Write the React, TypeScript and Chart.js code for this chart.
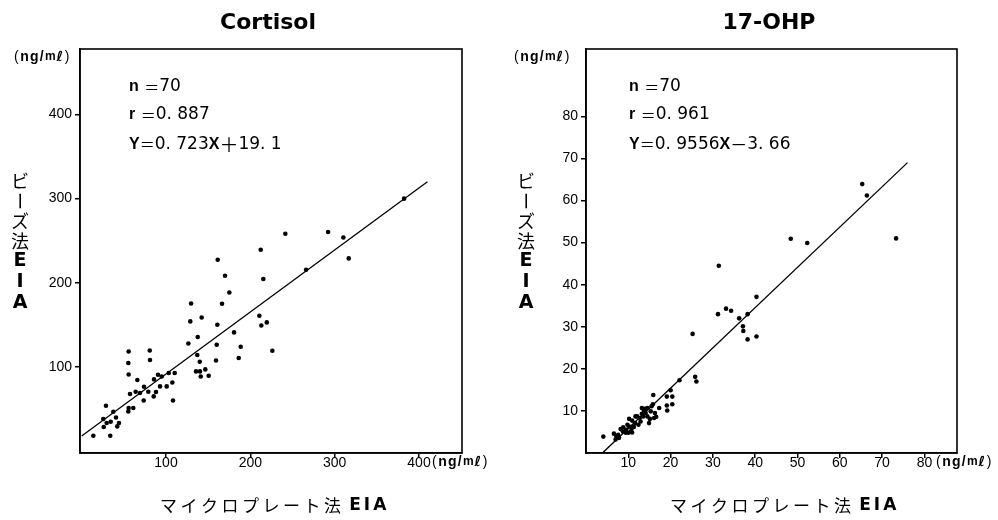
import React, { useEffect, useRef } from "react";
import { Chart, registerables } from "chart.js";

Chart.register(...registerables);

// ---------- data ----------
const cortisolX = [13.8, 33.9, 25.6, 26.1, 28.8, 29.6, 34.4, 37.5, 40.7, 42.2, 44.2, 55.7, 55.3, 55.7, 57.3, 55.7, 55.3, 61.2, 66, 64, 69.2, 73.9, 73.5, 79, 80.7, 81, 85.8, 85.4, 88.1, 90.5, 92.9, 94.9, 100.8, 103.2, 107.5, 108.3, 110.3, 126.5, 128.8, 129.7, 137.1, 137.6, 135.6, 140, 140.3, 141.2, 142.3, 146.6, 150.6, 159.3, 160.1, 160.9, 161.3, 166.4, 170, 175.1, 180.7, 186.2, 188.6, 210.7, 212.3, 213, 215.4, 219.5, 226.1, 241.5, 266.1, 292.2, 310.3, 316.7, 382.3];
const cortisolY = [18.4, 18.4, 38.2, 28.7, 54, 33.5, 35, 46.9, 40.1, 29.5, 33.5, 118.5, 104.7, 91.2, 67.9, 51.3, 47.3, 51.3, 84.6, 70.7, 69.1, 76.6, 60.3, 70.7, 119.7, 108.3, 85.3, 65.1, 70.3, 90.9, 77, 88.8, 77, 92.9, 81.7, 60.3, 92.9, 128, 154.2, 175.5, 114.3, 135.6, 94.8, 106.3, 94.8, 88.8, 158.9, 97.2, 89.7, 107.8, 126.5, 150.2, 227.4, 175.2, 208.4, 188.6, 141.1, 110.7, 124.1, 160.9, 239.3, 149.4, 204.5, 153, 119.4, 258.3, 215.6, 260.3, 253.9, 229, 300];
const cortisolLineX = [0, 410];
const cortisolLineY = [18, 320];
const cortisolXTicks = [100, 200, 300, 400];
const cortisolYTicks = [100, 200, 300, 400];

const ohpX = [65.3, 66.4, 48.4, 52.3, 73.3, 31.4, 40.3, 31.2, 33.1, 34.3, 36.2, 38.2, 37.1, 37.2, 38.2, 40.3, 25.2, 25.8, 26.1, 22.1, 20, 19.1, 20.4, 19.1, 20.4, 19.2, 15.9, 4.1, 6.6, 7.2, 7.6, 8.2, 8.8, 9.5, 10.0, 10.6, 10.8, 10.2, 10.9, 11.6, 12.1, 12.7, 13.2, 13.7, 14.1, 14.5, 14.9, 15.1, 15.5, 15.8, 16.3, 16.6, 17.3, 13.2, 12.4, 11.3, 9.4, 7.8, 7.0, 13.9, 15.3, 16.1, 11.7, 10.2, 8.7, 12.9, 14.5, 10.9, 9.8, 13.5];
const ohpY = [63.9, 61.2, 50.9, 49.9, 51, 44.5, 37.1, 33, 34.3, 33.8, 32, 33, 30.1, 29, 27, 27.7, 28.3, 18.1, 17, 17.3, 14.9, 13.4, 13.4, 11.3, 11.6, 10.1, 13.8, 3.9, 4.6, 3.9, 4.3, 5.7, 6.1, 5.5, 4.8, 5.1, 5.9, 8.1, 7.7, 7.1, 8.7, 8.3, 10.7, 10.1, 9.5, 8.7, 7.1, 8.1, 11.1, 11.6, 9.5, 8.6, 10.7, 9.3, 6.7, 6.2, 4.8, 3.6, 3.2, 10.5, 9.9, 8.3, 8.7, 6.3, 5.1, 7.5, 10.7, 4.9, 6.7, 8.7];
const ohpLineX = [4, 76];
const ohpLineY = [0.1, 69];
const ohpXTicks = [10, 20, 30, 40, 50, 60, 70, 80];
const ohpYTicks = [10, 20, 30, 40, 50, 60, 70, 80];

// ---------- fonts ----------
const SANS = "'Liberation Sans', Arial, sans-serif";
const DEJAVU = "'DejaVu Sans', sans-serif";
const CJK = "'Noto Sans CJK JP', sans-serif";

type Run = { t: string; f: string; sp?: number };

function drawRuns(ctx: CanvasRenderingContext2D, runs: Run[], x: number, y: number) {
  let cx = x;
  for (const r of runs) {
    ctx.font = r.f;
    const sp = r.sp || 0;
    for (const ch of Array.from(r.t)) {
      ctx.fillText(ch, cx, y);
      cx += ctx.measureText(ch).width + sp;
    }
  }
  return cx;
}

const B = `bold 16px ${SANS}`;
const EQ = `15px ${CJK}`;
const D = `17px ${DEJAVU}`;

interface Panel {
  title: string;
  titleX: number;
  stats: Run[][];
  statX: number;
  xs: number[];
  ys: number[];
  lx: number[];
  ly: number[];
  xTicks: number[];
  yTicks: number[];
  xMin: number;
  xMax: number;
  yMin: number;
  yMax: number;
  areaLeft: number;
  areaRight: number;
  areaBottom: number;
  vTitleX: number;
  xTitleX: number;
  unitTopX: number;
  unitBottomX: number;
}

const panels: Panel[] = [
  {
    title: "Cortisol",
    titleX: 268,
    stats: [
      [{ t: "n", f: B }, { t: " ", f: D }, { t: "＝", f: EQ }, { t: "70", f: D }],
      [{ t: "r", f: B }, { t: " ", f: D }, { t: "＝", f: EQ }, { t: "0. 887", f: D }],
      [{ t: "Y", f: B }, { t: "＝", f: EQ }, { t: "0. 723", f: D }, { t: "X", f: B }, { t: "＋", f: `19px ${CJK}` }, { t: "19. 1", f: D }],
    ],
    statX: 129,
    xs: cortisolX,
    ys: cortisolY,
    lx: cortisolLineX,
    ly: cortisolLineY,
    xTicks: cortisolXTicks,
    yTicks: cortisolYTicks,
    xMin: -2,
    xMax: 451,
    yMin: -2.1,
    yMax: 477.7,
    areaLeft: 80,
    areaRight: 462,
    areaBottom: 453,
    vTitleX: 20,
    xTitleX: 160,
    unitTopX: 14,
    unitBottomX: 432,
  },
  {
    title: "17-OHP",
    titleX: 270,
    stats: [
      [{ t: "n", f: B }, { t: " ", f: D }, { t: "＝", f: EQ }, { t: "70", f: D }],
      [{ t: "r", f: B }, { t: " ", f: D }, { t: "＝", f: EQ }, { t: "0. 961", f: D }],
      [{ t: "Y", f: B }, { t: "＝", f: EQ }, { t: "0. 9556", f: D }, { t: "X", f: B }, { t: "－", f: `17px ${CJK}` }, { t: "3. 66", f: D }],
    ],
    statX: 130,
    xs: ohpX,
    ys: ohpY,
    lx: ohpLineX,
    ly: ohpLineY,
    xTicks: ohpXTicks,
    yTicks: ohpYTicks,
    xMin: 0,
    xMax: 87.7,
    yMin: 0,
    yMax: 96,
    areaLeft: 87,
    areaRight: 458,
    areaBottom: 453,
    vTitleX: 27,
    xTitleX: 171,
    unitTopX: 15,
    unitBottomX: 437,
  },
];

const W = 499;
const H = 520;

function makeChart(canvas: HTMLCanvasElement, p: Panel) {
  const points = p.xs.map((x, i) => ({ x, y: p.ys[i] }));
  const line = p.lx.map((x, i) => ({ x, y: p.ly[i] }));

  const decor = {
    id: "decor",
    afterDraw(chart: any) {
      const ctx: CanvasRenderingContext2D = chart.ctx;
      const a = chart.chartArea;
      ctx.save();
      // frame (top & right)
      ctx.strokeStyle = "#000";
      ctx.lineWidth = 1.6;
      ctx.strokeRect(a.left, a.top, a.right - a.left, a.bottom - a.top);
      ctx.fillStyle = "#000";
      // title
      ctx.font = `bold 22px ${DEJAVU}`;
      ctx.textAlign = "center";
      ctx.textBaseline = "middle";
      ctx.fillText(p.title, p.titleX, 23);
      // stats
      ctx.textAlign = "left";
      const rowsY = [87, 115, 144.5];
      p.stats.forEach((runs, i) => drawRuns(ctx, runs, p.statX, rowsY[i]));
      // units
      const unit: Run[] = [
        { t: "(", f: `14px ${SANS}`, sp: 1.5 },
        { t: "ng/", f: `bold 14px ${SANS}`, sp: 1.3 },
        { t: "m", f: `bold 12px ${SANS}`, sp: 0.8 },
        { t: "ℓ", f: `bold 14px ${DEJAVU}`, sp: 1.5 },
        { t: ")", f: `14px ${SANS}` },
      ];
      drawRuns(ctx, unit, p.unitTopX, 57);
      drawRuns(ctx, unit, p.unitBottomX, 462);
      // x title
      const xt: Run[] = [
        { t: "マイクロプレート法", f: `17px ${CJK}`, sp: 3.5 },
        { t: " ", f: `17px ${SANS}` },
        { t: "EIA", f: `bold 17px ${DEJAVU}`, sp: 3 },
      ];
      drawRuns(ctx, xt, p.xTitleX, 506);
      // vertical y title
      const chars = ["ビ", "ー", "ズ", "法", "E", "I", "A"];
      const cy = [181, 201, 221, 241, 261, 282, 303];
      ctx.textAlign = "center";
      chars.forEach((ch, i) => {
        const latin = i >= 4;
        ctx.font = latin ? `bold 19px ${DEJAVU}` : `18px ${CJK}`;
        if (ch === "ー") {
          ctx.save();
          ctx.translate(p.vTitleX, cy[i]);
          ctx.rotate(Math.PI / 2);
          ctx.fillText(ch, 0, 0);
          ctx.restore();
        } else {
          ctx.fillText(ch, p.vTitleX, cy[i]);
        }
      });
      ctx.restore();
    },
  };

  const tickFont = { family: SANS, size: 14 };

  return new Chart(canvas, {
    type: "scatter",
    data: {
      datasets: [
        {
          type: "scatter",
          data: points,
          backgroundColor: "#000",
          borderWidth: 0,
          pointRadius: 2.3,
          pointHoverRadius: 2.3,
        },
        {
          type: "line",
          data: line,
          borderColor: "#000",
          borderWidth: 1.3,
          pointRadius: 0,
          fill: false,
          tension: 0,
        } as any,
      ],
    },
    options: {
      animation: false,
      responsive: false,
      maintainAspectRatio: false,
      events: [],
      layout: { padding: { left: 0, top: 49, right: W - p.areaRight, bottom: 0 } },
      plugins: { legend: { display: false }, title: { display: false }, tooltip: { enabled: false } },
      scales: {
        x: {
          type: "linear",
          min: p.xMin,
          max: p.xMax,
          afterBuildTicks: (s: any) => {
            s.ticks = p.xTicks.map((v) => ({ value: v }));
          },
          afterFit: (s: any) => {
            s.height = H - p.areaBottom;
          },
          grid: { display: true, drawOnChartArea: false, drawTicks: true, tickLength: 5, color: "#000", lineWidth: 1.5 },
          border: { display: true, color: "#000", width: 1.6 },
          ticks: { font: tickFont, color: "#000", padding: -3, maxRotation: 0, autoSkip: false },
        },
        y: {
          type: "linear",
          min: p.yMin,
          max: p.yMax,
          afterBuildTicks: (s: any) => {
            s.ticks = p.yTicks.map((v) => ({ value: v }));
          },
          afterFit: (s: any) => {
            s.width = p.areaLeft;
          },
          grid: { display: true, drawOnChartArea: false, drawTicks: true, tickLength: 5, color: "#000", lineWidth: 1.5 },
          border: { display: true, color: "#000", width: 1.6 },
          ticks: { font: tickFont, color: "#000", padding: 3, autoSkip: false },
        },
      },
    },
    plugins: [decor],
  } as any);
}

function Panel({ p, left }: { p: Panel; left: number }) {
  const ref = useRef<HTMLCanvasElement>(null);
  useEffect(() => {
    if (!ref.current) return;
    const c = makeChart(ref.current, p);
    return () => c.destroy();
  }, [p]);
  return (
    <canvas
      ref={ref}
      width={W}
      height={H}
      style={{ position: "absolute", left, top: 0, width: W, height: H }}
    />
  );
}

export default function App() {
  return (
    <div style={{ position: "fixed", left: 0, top: 0, width: 998, height: 520, background: "#fff", overflow: "hidden" }}>
      <Panel p={panels[0]} left={0} />
      <Panel p={panels[1]} left={499} />
    </div>
  );
}
